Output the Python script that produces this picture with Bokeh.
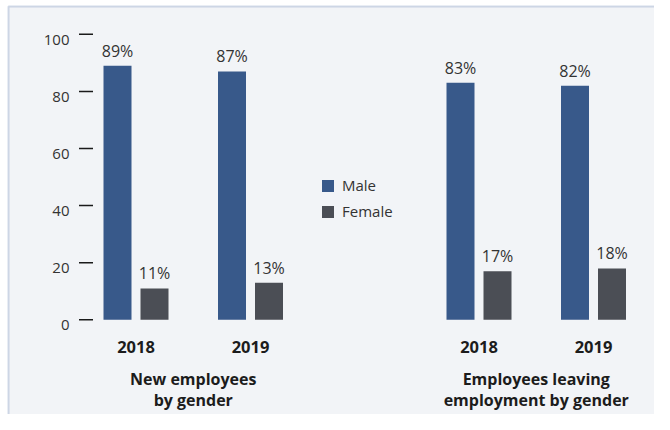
from bokeh.plotting import figure
from bokeh.models import Range1d, ColumnDataSource, BoxAnnotation, Legend, LegendItem
from bokeh.core.properties import value
from bokeh.embed import file_html
from bokeh.resources import INLINE

# ---- data ----
groups = ["New employees\nby gender", "Employees leaving\nemployment by gender"]
years = ["2018", "2019"]
male = [89, 87, 83, 82]      # order: g1-2018, g1-2019, g2-2018, g2-2019
female = [11, 13, 17, 18]
y_ticks = [0, 20, 40, 60, 80, 100]
series_names = ["Male", "Female"]

# ---- layout constants (pixels / style) ----
W, H = 654, 414
PX_PER_UNIT = 2.855
Y0_PX = 319.3                       # px of y = 0 from top
group_origin = [135.5, 478.5]       # px centre of first year pair in each group
year_step = 114.5
dodge = 18.5
bar_w = 28
MALE_C = "#38598a"
FEMALE_C = "#4b4e55"
BG = "#f2f4f7"
BORDER_C = "#6a83b3"
FONT_NAME = "Open Sans"
FONT = value(FONT_NAME)

y_end = Y0_PX / PX_PER_UNIT
y_start = -(H - Y0_PX) / PX_PER_UNIT

p = figure(width=W, height=H, output_backend="svg", toolbar_location=None,
           x_axis_type=None, y_axis_type=None,
           x_range=Range1d(0, W), y_range=Range1d(y_start, y_end),
           min_border=0, outline_line_color=None,
           background_fill_color="white", border_fill_color="white")
p.grid.visible = False

# panel background with top/left border
top_border_y = (Y0_PX - 6) / PX_PER_UNIT
p.add_layout(BoxAnnotation(left=8, right=W + 50, top=top_border_y, bottom=y_start - 50,
                           fill_color=BG, fill_alpha=1, line_color=BORDER_C,
                           line_width=2, level="underlay"))

# centres of each year pair
pair_x = []
pair_year = []
for gi in range(len(groups)):
    for yi, yr in enumerate(years):
        pair_x.append(group_origin[gi] + yi * year_step)
        pair_year.append(yr)

src = ColumnDataSource(dict(
    xm=[x - dodge for x in pair_x],
    xf=[x + dodge for x in pair_x],
    male=male, female=female,
    ml=[f"{v}%" for v in male], fl=[f"{v}%" for v in female],
    xc=pair_x, yr=pair_year, zero=[0] * len(pair_x),
))

rm = p.vbar(x="xm", top="male", width=bar_w, bottom=0, source=src,
            fill_color=MALE_C, line_color=None)
rf = p.vbar(x="xf", top="female", width=bar_w, bottom=0, source=src,
            fill_color=FEMALE_C, line_color=None)

lab_kw = dict(text_font=FONT, text_font_size="16px", text_color="#333333",
              text_align="center", text_baseline="middle", y_offset=-15)
p.text(x="xm", y="male", text="ml", source=src, **lab_kw)
p.text(x="xf", y="female", text="fl", source=src, **lab_kw)

# year labels
p.text(x="xc", y="zero", text="yr", source=src, text_font=FONT,
       text_font_size="16.5px", text_font_style="bold", text_color="#1c1c1c",
       text_align="center", text_baseline="middle", y_offset=27.5)

# group titles (two lines each)
gx = [group_origin[gi] + year_step / 2 for gi in range(len(groups))]
line1 = [g.split("\n")[0] for g in groups]
line2 = [g.split("\n")[1] for g in groups]
tsrc = ColumnDataSource(dict(x=gx, y=[0, 0], l1=line1, l2=line2))
title_kw = dict(text_font=FONT, text_font_size="16px", text_font_style="bold",
                text_color="#1c1c1c", text_align="center", text_baseline="middle")
p.text(x="x", y="y", text="l1", source=tsrc, y_offset=59.5, **title_kw)
p.text(x="x", y="y", text="l2", source=tsrc, y_offset=80.5, **title_kw)

# y axis: tick marks and labels
tsrc2 = ColumnDataSource(dict(y=y_ticks, lab=[str(t) for t in y_ticks],
                              x0=[78.5] * len(y_ticks), x1=[92.5] * len(y_ticks),
                              xl=[69] * len(y_ticks)))
p.segment(x0="x0", x1="x1", y0="y", y1="y", source=tsrc2,
          line_color="#1a1a1a", line_width=1.5)
p.text(x="xl", y="y", text="lab", source=tsrc2, text_font=FONT,
       text_font_size="15px", text_color="#333333", text_align="right",
       text_baseline="middle", y_offset=5.5)

legend = Legend(items=[LegendItem(label=series_names[0], renderers=[rm]),
                       LegendItem(label=series_names[1], renderers=[rf])],
                location=(320, 193), orientation="vertical",
                glyph_width=15, glyph_height=15, label_height=20, spacing=6,
                label_standoff=7, padding=0, margin=0,
                label_text_font=FONT_NAME, label_text_font_size="15px",
                label_text_color="#333333",
                border_line_color=None, background_fill_alpha=0)
p.add_layout(legend)

open("out.html", "w").write(file_html(p, INLINE))
